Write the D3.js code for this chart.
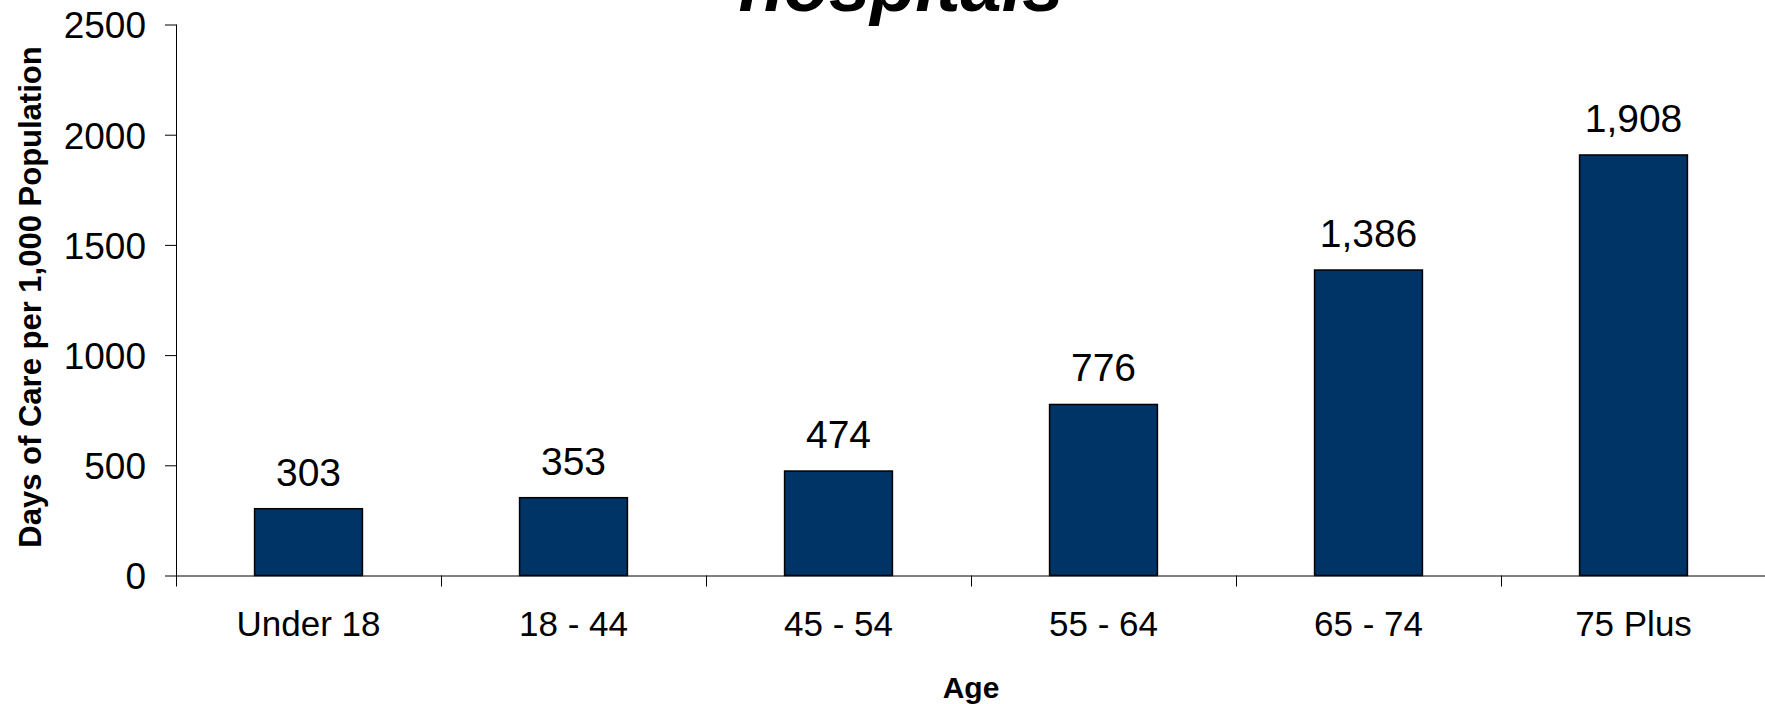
<!DOCTYPE html>
<html>
<head>
<meta charset="utf-8">
<script src="https://cdn.jsdelivr.net/npm/d3@7"></script>
<style>
    body { margin: 0; background: #fff; }
    text { font-family: "Liberation Sans", Arial, sans-serif; fill: #000; }
</style>
</head>
<body>
<svg id="chart"></svg>
<script>
// Chart data
var ageGroups = ["Under 18", "18 - 44", "45 - 54", "55 - 64", "65 - 74", "75 Plus"];
var daysOfCare = [303, 353, 474, 776, 1386, 1908];
var yTicks = [0, 500, 1000, 1500, 2000, 2500];

var titleText = "hospitals";
var yTitle = "Days of Care per 1,000 Population";
var xTitle = "Age";

// Size and plot area
const width = 1765, height = 704;
const plot = {left: 176, right: 1766, top: 24.5, bottom: 575.5};

var svg = d3.select("#chart")
    .attr("width", width)
    .attr("height", height);

// Scales
var x = d3.scaleBand()
    .domain(ageGroups)
    .range([plot.left, plot.right])
    .padding(0);

var y = d3.scaleLinear()
    .domain([0, 2500])
    .range([plot.bottom, plot.top]);

var barWidth = x.bandwidth() * 0.407;

// Title (only its last line shows at the top of the picture)
svg.append("text")
    .attr("x", 901)
    .attr("y", 11)
    .attr("text-anchor", "middle")
    .style("font-size", "74px")
    .style("font-weight", "bold")
    .style("font-style", "italic")
    .text(titleText);

// Bars
svg.selectAll(".bar")
    .data(daysOfCare)
    .join("rect")
    .attr("class", "bar")
    .attr("x", (d, i) => x(ageGroups[i]) + x.bandwidth() / 2 - barWidth / 2)
    .attr("y", d => y(d))
    .attr("width", barWidth)
    .attr("height", d => y(0) - y(d))
    .attr("fill", "#003366")
    .attr("stroke", "#000")
    .attr("stroke-width", 1.5);

// Value labels above the bars
svg.selectAll(".value")
    .data(daysOfCare)
    .join("text")
    .attr("class", "value")
    .attr("x", (d, i) => x(ageGroups[i]) + x.bandwidth() / 2)
    .attr("y", d => y(d) - 23)
    .attr("text-anchor", "middle")
    .style("font-size", "39px")
    .text(d => d3.format(",")(d));

// Y axis
var yAxis = svg.append("g")
    .attr("transform", `translate(${plot.left},0)`)
    .call(d3.axisLeft(y).tickValues(yTicks).tickSize(11).tickPadding(19).tickFormat(d3.format("d")));

yAxis.select(".domain").remove();
yAxis.append("line")
    .attr("x1", 0.5).attr("x2", 0.5)
    .attr("y1", plot.top).attr("y2", plot.bottom + 11)
    .attr("stroke", "#000");
yAxis.selectAll(".tick line").attr("stroke", "#000").attr("x1", 0.5);
yAxis.selectAll(".tick text")
    .style("font-size", "37px")
    .attr("dy", "0.36em")
    .style("font-family", "'Liberation Sans', Arial, sans-serif");

// X axis: labels centred under bars, ticks at the category boundaries
var xAxis = svg.append("g")
    .attr("transform", `translate(0,${plot.bottom})`)
    .call(d3.axisBottom(x).tickSize(0).tickPadding(36));

xAxis.select(".domain").remove();
xAxis.append("line")
    .attr("x1", plot.left).attr("x2", width)
    .attr("y1", 0.5).attr("y2", 0.5)
    .attr("stroke", "#000");
xAxis.selectAll(".tick text")
    .style("font-size", "35px")
    .attr("dy", "0.71em")
    .style("font-family", "'Liberation Sans', Arial, sans-serif");

xAxis.selectAll(".bound")
    .data(ageGroups.slice(1))
    .join("line")
    .attr("class", "bound")
    .attr("x1", d => Math.round(x(d)) + 0.5)
    .attr("x2", d => Math.round(x(d)) + 0.5)
    .attr("y1", 0).attr("y2", 11)
    .attr("stroke", "#000");

// Axis titles
svg.append("text")
    .attr("transform", `translate(41,297) rotate(-90)`)
    .attr("text-anchor", "middle")
    .style("font-size", "31px")
    .style("font-weight", "bold")
    .text(yTitle);

svg.append("text")
    .attr("x", (plot.left + plot.right) / 2)
    .attr("y", 698)
    .attr("text-anchor", "middle")
    .style("font-size", "30px")
    .style("font-weight", "bold")
    .text(xTitle);
</script>
</body>
</html>
